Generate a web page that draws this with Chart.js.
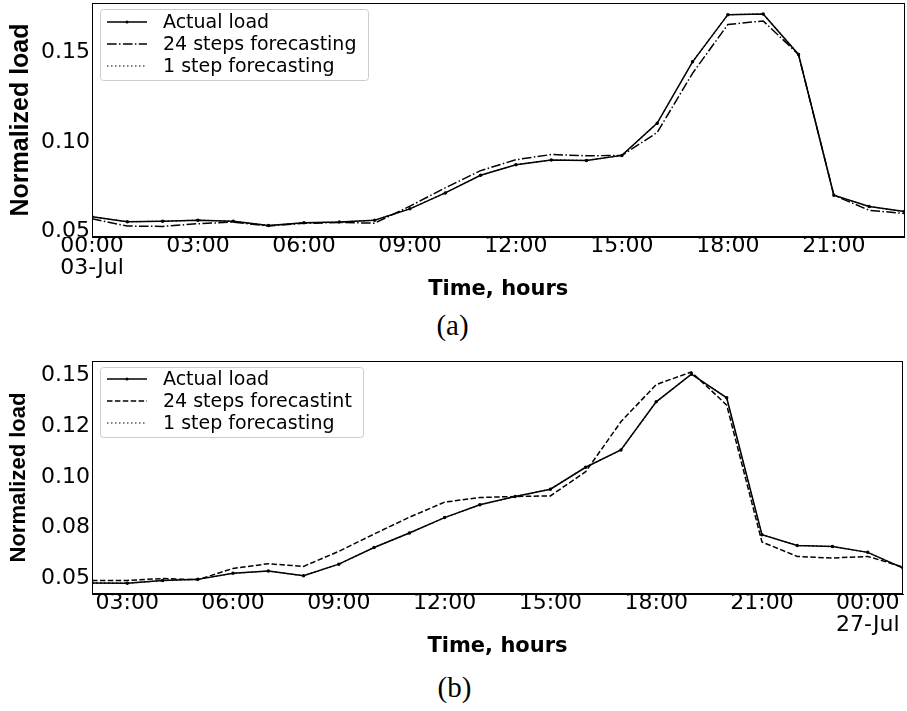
<!DOCTYPE html>
<html>
<head>
<meta charset="utf-8">
<script src="https://cdn.jsdelivr.net/npm/chart.js@4"></script>
<style>
  body { margin: 0; background: #fff; width: 907px; height: 711px; position: relative; overflow: hidden; }
  .wrap { position: absolute; left: 0; width: 907px; }
  .cap { position: absolute; left: 0; width: 907px; text-align: center; font-family: "Liberation Serif", serif; font-size: 29px; color: #000; }
</style>
</head>
<body>
<div class="wrap" style="top:0;height:305px"><canvas id="chartA"></canvas></div>
<div class="cap" style="top:309px;left:-1px">(a)</div>
<div class="wrap" style="top:350px;height:311px"><canvas id="chartB"></canvas></div>
<div class="cap" style="top:671px;left:1px">(b)</div>
<script>
// (a) 03-Jul, hourly
const hoursA = [0, 1, 2, 3, 4, 5, 6, 7, 8, 9, 10, 11, 12, 13, 14, 15, 16, 17, 18, 19, 20, 21, 22, 23];
const actualA = [0.0582, 0.0554, 0.0557, 0.0563, 0.0557, 0.0533, 0.0548, 0.0552, 0.0563, 0.0626, 0.0715, 0.0813,
                 0.0872, 0.0898, 0.0896, 0.0924, 0.1104, 0.1446, 0.1709, 0.1713, 0.1487, 0.0702, 0.0639, 0.0611];
const steps24A = [0.0571, 0.0530, 0.0528, 0.0543, 0.0552, 0.0530, 0.0545, 0.0550, 0.0546, 0.0641, 0.0743, 0.0839,
                  0.0900, 0.0929, 0.0922, 0.0924, 0.1052, 0.1382, 0.1654, 0.1674, 0.1487, 0.0702, 0.0618, 0.0600];
// the dotted 1-step line sits under the actual load line in the picture
const step1A = actualA;
const xTicksA = [0, 3, 6, 9, 12, 15, 18, 21];
const xLabelsA = [['00:00', '03-Jul'], '03:00', '06:00', '09:00', '12:00', '15:00', '18:00', '21:00'];
const yTicksA = [0.05, 0.10, 0.15];
const yLabelsA = ['0.05', '0.10', '0.15'];

// (b) 26/27-Jul, hourly from 02:00
const hoursB = [2, 3, 4, 5, 6, 7, 8, 9, 10, 11, 12, 13, 14, 15, 16, 17, 18, 19, 20, 21, 22, 23, 24, 25];
const actualB = [0.0477, 0.0476, 0.0489, 0.0495, 0.0525, 0.0536, 0.0513, 0.0570, 0.0652, 0.0723, 0.0799, 0.0862,
                 0.0903, 0.0939, 0.1047, 0.1132, 0.1369, 0.1505, 0.1389, 0.0715, 0.0662, 0.0657, 0.0628, 0.0551];
const steps24B = [0.0490, 0.0490, 0.0499, 0.0493, 0.0549, 0.0572, 0.0559, 0.0633, 0.0718, 0.0801, 0.0875, 0.0898,
                  0.0903, 0.0906, 0.1025, 0.1271, 0.1454, 0.1516, 0.1353, 0.0679, 0.0608, 0.0600, 0.0608, 0.0556];
const step1B = actualB;
const xTicksB = [3, 6, 9, 12, 15, 18, 21, 24];
const xLabelsB = ['03:00', '06:00', '09:00', '12:00', '15:00', '18:00', '21:00', ['00:00', '27-Jul']];
const yTicksB = [0.05, 0.075, 0.10, 0.125, 0.15];
const yLabelsB = ['0.05', '0.08', '0.10', '0.12', '0.15'];

Chart.defaults.color = '#000';
Chart.defaults.font.family = '"DejaVu Sans", sans-serif';

const toPoints = (xs, ys) => xs.map((x, i) => ({ x: x, y: ys[i] }));

// box around the plot area
const frame = {
    id: 'frame',
    afterDraw(chart) {
        const a = chart.chartArea, ctx = chart.ctx;
        ctx.save();
        ctx.strokeStyle = '#000';
        ctx.lineWidth = 1;
        ctx.strokeRect(Math.round(a.left) + 0.5, Math.round(a.top) + 0.5,
                       Math.round(a.right - a.left) - 1, Math.round(a.bottom - a.top) - 1);
        ctx.restore();
    }
};

// matplotlib-style legend in the upper left corner
const legendBox = {
    id: 'legendBox',
    afterDatasetsDraw(chart, args, o) {
        const ctx = chart.ctx;
        ctx.save();
        ctx.fillStyle = 'rgba(255,255,255,0.85)';
        ctx.strokeStyle = '#cccccc';
        ctx.lineWidth = 1;
        ctx.beginPath();
        ctx.roundRect(o.x + 0.5, o.y + 0.5, o.w, o.h, 3);
        ctx.fill();
        ctx.stroke();
        ctx.font = '19px "DejaVu Sans", sans-serif';
        ctx.textBaseline = 'middle';
        chart.data.datasets.forEach((ds, i) => {
            const ly = o.y + o.first + i * o.gap;
            ctx.strokeStyle = ds.borderColor;
            ctx.lineWidth = ds.borderWidth;
            ctx.setLineDash(ds.borderDash || []);
            ctx.beginPath();
            ctx.moveTo(o.x + 7, ly);
            ctx.lineTo(o.x + 47, ly);
            ctx.stroke();
            ctx.setLineDash([]);
            if (ds.pointRadius) {
                ctx.fillStyle = '#000';
                ctx.beginPath();
                ctx.arc(o.x + 27, ly, 1.5, 0, Math.PI * 2);
                ctx.fill();
            }
            ctx.fillStyle = '#000';
            ctx.fillText(ds.label, o.x + 63, ly + 1);
        });
        ctx.restore();
    }
};

function makeChart(id, cfg) {
    return new Chart(document.getElementById(id), {
        type: 'line',
        data: {
            datasets: [{
                label: 'Actual load',
                data: toPoints(cfg.hours, cfg.actual),
                borderColor: '#000',
                backgroundColor: '#000',
                borderWidth: 1.5,
                pointRadius: 1,
                pointHoverRadius: 1,
                order: 0
            }, {
                label: cfg.label24,
                data: toPoints(cfg.hours, cfg.steps24),
                borderColor: '#000',
                borderWidth: 1.5,
                borderDash: cfg.dash24,
                pointRadius: 0,
                order: 1
            }, {
                label: '1 step forecasting',
                data: toPoints(cfg.hours, cfg.step1),
                borderColor: '#000',
                borderWidth: 1.2,
                borderDash: [1.5, 2.5],
                pointRadius: 0,
                order: 2
            }]
        },
        options: {
            responsive: true,
            maintainAspectRatio: false,
            animation: false,
            layout: { padding: { top: cfg.padTop, right: cfg.padRight, left: 0, bottom: 0 } },
            plugins: {
                legend: { display: false },
                tooltip: { enabled: false },
                legendBox: cfg.legend
            },
            scales: {
                x: {
                    type: 'linear',
                    min: cfg.hours[0],
                    max: cfg.hours[cfg.hours.length - 1],
                    grid: { display: false, drawTicks: false },
                    border: { display: true, color: '#000', width: 1 },
                    afterBuildTicks: s => { s.ticks = cfg.xTicks.map(v => ({ value: v })); },
                    afterFit: s => { s.height = cfg.xHeight; s.paddingRight = 0; },
                    ticks: {
                        autoSkip: false,
                        maxRotation: 0,
                        padding: -2,
                        font: { size: 22, lineHeight: 1.02 },
                        callback: (v, i) => cfg.xLabels[i]
                    },
                    title: {
                        display: true,
                        text: 'Time, hours',
                        font: { size: 21, weight: 'bold', family: '"DejaVu Sans", sans-serif' },
                        padding: { top: 0, bottom: cfg.titlePadX }
                    }
                },
                y: {
                    min: cfg.yMin,
                    max: cfg.yMax,
                    grid: { display: false, drawTicks: false },
                    border: { display: true, color: '#000', width: 1 },
                    afterBuildTicks: s => { s.ticks = cfg.yTicks.map(v => ({ value: v })); },
                    afterFit: s => { s.width = 92; s.paddingTop = 0; s.paddingBottom = 0; },
                    ticks: {
                        padding: 2,
                        font: { size: 22 },
                        callback: (v, i) => cfg.yLabels[i]
                    },
                    title: {
                        display: true,
                        text: 'Normalized load',
                        font: { size: cfg.yTitleSize, weight: 'bold', family: '"Liberation Sans Narrow", "Liberation Sans", sans-serif' },
                        padding: { top: 6, bottom: 0 }
                    }
                }
            }
        },
        plugins: [frame, legendBox]
    });
}

makeChart('chartA', {
    hours: hoursA, actual: actualA, steps24: steps24A, step1: step1A,
    label24: '24 steps forecasting', dash24: [9.6, 2.4, 1.5, 2.4],
    xTicks: xTicksA, xLabels: xLabelsA, yTicks: yTicksA, yLabels: yLabelsA,
    yMin: 0.0469, yMax: 0.1774,
    padTop: 3, padRight: 0, xHeight: 68, titlePadX: 3, yTitleSize: 25,
    legend: { x: 100, y: 9, w: 268, h: 71, first: 13, gap: 22 }
});

makeChart('chartB', {
    hours: hoursB, actual: actualB, steps24: steps24B, step1: step1B,
    label24: '24 steps forecastint', dash24: [5.5, 2.4],
    xTicks: xTicksB, xLabels: xLabelsB, yTicks: yTicksB, yLabels: yLabelsB,
    yMin: 0.0423, yMax: 0.157,
    padTop: 11, padRight: 4, xHeight: 67, titlePadX: 2, yTitleSize: 22,
    legend: { x: 100, y: 17, w: 263, h: 70, first: 12, gap: 22 }
});
</script>
</body>
</html>
